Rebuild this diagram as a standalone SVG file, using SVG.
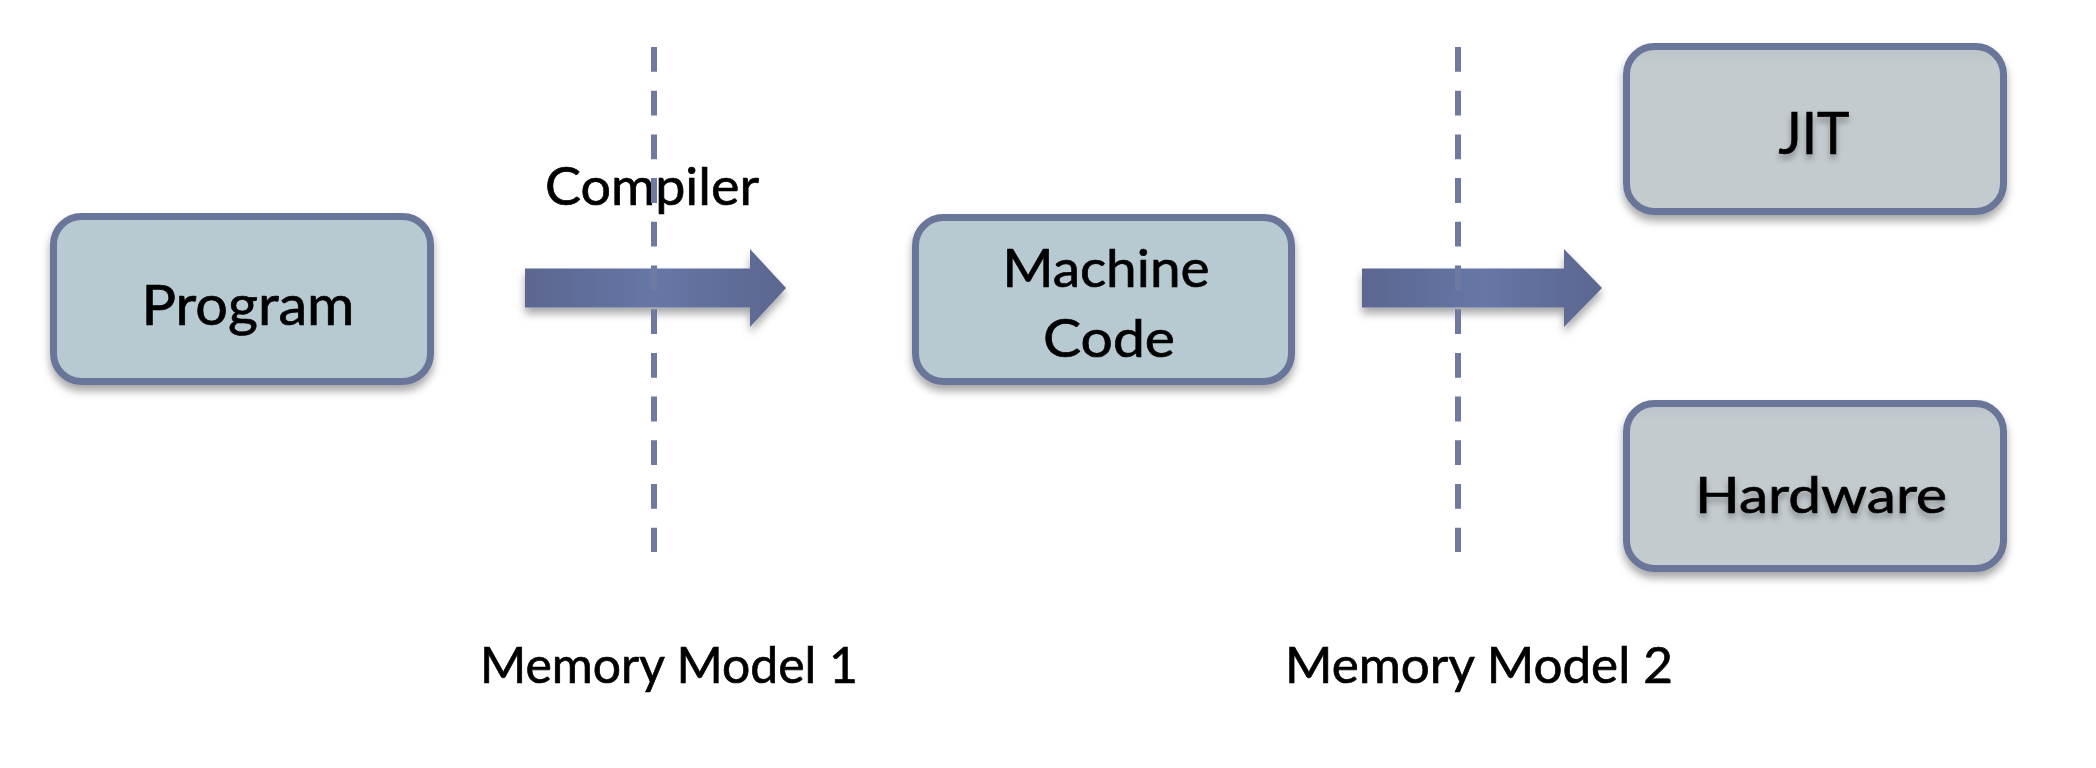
<svg xmlns="http://www.w3.org/2000/svg" width="2096" height="768" viewBox="0 0 2096 768">
  <defs>
    <filter id="shadow" x="-10%" y="-10%" width="120%" height="130%">
      <feDropShadow dx="0" dy="6" stdDeviation="4" flood-color="#000" flood-opacity="0.35"/>
    </filter>
    <filter id="textShadow" x="-20%" y="-20%" width="140%" height="160%">
      <feDropShadow dx="0" dy="5" stdDeviation="3" flood-color="#000" flood-opacity="0.3"/>
    </filter>
    <linearGradient id="arrowFill" x1="0" y1="0" x2="1" y2="0">
      <stop offset="0" stop-color="#5b6690"/>
      <stop offset="0.5" stop-color="#6776a6"/>
      <stop offset="1" stop-color="#5b6690"/>
    </linearGradient>
    <linearGradient id="greyFill" x1="0" y1="0" x2="0" y2="1">
      <stop offset="0" stop-color="#bcc4c9"/>
      <stop offset="0.12" stop-color="#c3cbcf"/>
      <stop offset="1" stop-color="#c3cbcf"/>
    </linearGradient>
  </defs>
  <style>
    .box { stroke: #6b7699; stroke-width: 7; filter: url(#shadow); }
    .blue { fill: #b7cad2; }
    .grey { fill: url(#greyFill); }
    .label { font-family: Lato, "Open Sans", "Liberation Sans", sans-serif; fill: #000; stroke: #000; stroke-width: 0.7; text-anchor: middle; }
    .arrow { fill: url(#arrowFill); filter: url(#shadow); }
    .divider { stroke: #6e7aa0; stroke-width: 6; stroke-dasharray: 24.8 18.9; fill: none; }
  </style>

  <rect width="2096" height="768" fill="#ffffff"/>

  <!-- arrows between stages -->
  <g id="connectors">
    <path class="arrow" d="M525,268.5 H750 V249 L786,288 L750,327 V307.5 H525 Z"/>
    <path class="arrow" d="M1362,268.5 H1564 V249 L1602,288 L1564,327 V307.5 H1362 Z"/>
  </g>

  <g id="program">
    <rect class="box blue" x="53.5" y="216.5" width="377" height="165" rx="28"/>
    <text class="label" x="248" y="325" font-size="56" textLength="213" lengthAdjust="spacingAndGlyphs">Program</text>
  </g>

  <g id="machine-code">
    <rect class="box blue" x="915.5" y="217.5" width="376" height="164" rx="28"/>
    <text class="label" x="1106" y="287" font-size="52" textLength="207" lengthAdjust="spacingAndGlyphs">Machine</text>
    <text class="label" x="1109" y="357" font-size="52" textLength="132" lengthAdjust="spacingAndGlyphs">Code</text>
  </g>

  <g id="jit">
    <rect class="box grey" x="1626.5" y="46.5" width="377" height="165" rx="28"/>
    <text class="label" x="1814" y="154" font-size="58" textLength="71" lengthAdjust="spacingAndGlyphs" filter="url(#textShadow)">JIT</text>
  </g>

  <g id="hardware">
    <rect class="box grey" x="1626.5" y="403.5" width="377" height="165" rx="28"/>
    <text class="label" x="1821" y="513" font-size="51" textLength="252" lengthAdjust="spacingAndGlyphs" filter="url(#textShadow)">Hardware</text>
  </g>

  <g id="compiler-label">
    <text class="label" x="652" y="205" font-size="53" textLength="214" lengthAdjust="spacingAndGlyphs">Compiler</text>
  </g>

  <!-- memory model boundaries -->
  <g id="dividers">
    <line class="divider" x1="654" y1="47" x2="654" y2="552"/>
    <line class="divider" x1="1458" y1="47" x2="1458" y2="552"/>
  </g>

  <g id="memory-model-labels">
    <text class="label" x="669" y="683" font-size="50" textLength="378" lengthAdjust="spacingAndGlyphs">Memory Model 1</text>
    <text class="label" x="1479" y="683" font-size="50" textLength="388" lengthAdjust="spacingAndGlyphs">Memory Model 2</text>
  </g>
</svg>
